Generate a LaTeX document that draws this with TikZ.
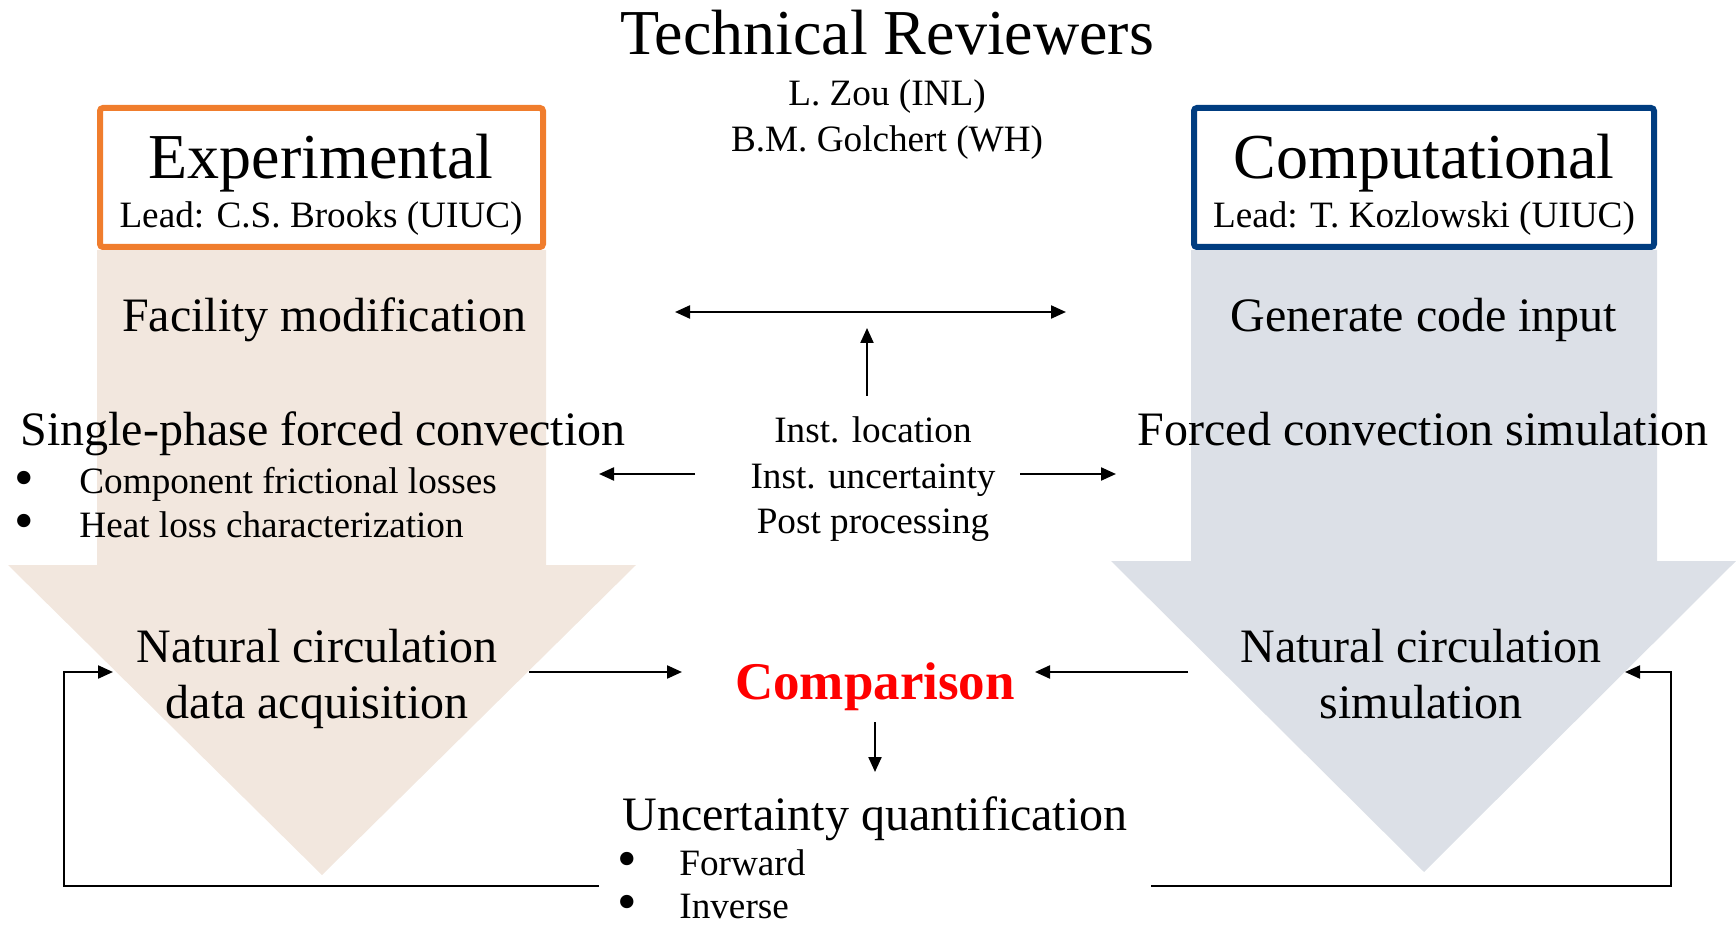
\documentclass[tikz,border=0pt]{standalone}
\usepackage{fontspec}
\setmainfont{Liberation Serif}
\usetikzlibrary{arrows.meta}
\definecolor{exporange}{RGB}{240,125,45}
\definecolor{compblue}{RGB}{0,61,128}
\definecolor{expfill}{RGB}{242,231,222}
\definecolor{compfill}{RGB}{220,224,231}
\definecolor{cmpred}{RGB}{255,0,0}
\begin{document}
\begin{tikzpicture}[x=0.5pt,y=-0.5pt,
  conn/.style={line width=1.1pt,-{Triangle[length=7.5pt,width=6.5pt]}},
  dconn/.style={line width=1.1pt,{Triangle[length=7.5pt,width=6.5pt]}-{Triangle[length=7.5pt,width=6.5pt]}},
  fb/.style={line width=1.1pt,-{Triangle[length=7.5pt,width=6.5pt]}},
  huge/.style={font=\fontsize{32}{36}\selectfont, inner sep=0},
  mid/.style={font=\fontsize{24}{28.2}\selectfont, inner sep=0},
  small/.style={font=\fontsize{18.6}{22.4}\selectfont, inner sep=0},
  bul/.style={font=\fontsize{18.6}{22.4}\selectfont, inner sep=0},
  leadbox/.style={line width=3pt, rounded corners=1.5pt, fill=white, minimum height=69.5pt, inner sep=0},
]
\useasboundingbox (0,0) rectangle (1736,925);
% big arrows
\fill[expfill] (97,250) -- (546,250) -- (546,565) -- (636,565) -- (322,875) -- (8,565) -- (97,565) -- cycle;
\fill[compfill] (1191,250) -- (1657,250) -- (1657,561) -- (1736,561) -- (1424,872) -- (1111,561) -- (1191,561) -- cycle;
% boxes
\node[leadbox, draw=exporange, minimum width=221.5pt] (expbox) at (321.5,177.5) {};
\node[leadbox, draw=compblue, minimum width=230pt] (compbox) at (1424,177.5) {};
\node[huge, anchor=base] (exptitle) at (321,179) {Experimental};
\node[small, anchor=base] (explead) at (321,228) {Lead: C.S. Brooks (UIUC)};
\node[huge, anchor=base] (comptitle) at (1424,179) {Computational};
\node[small, anchor=base] (complead) at (1424,228) {Lead: T. Kozlowski (UIUC)};
% reviewers
\node[huge, anchor=base] (revtitle) at (887,55) {Technical Reviewers};
\node[small, anchor=base] (rev1) at (887,106) {L. Zou (INL)};
\node[small, anchor=base] (rev2) at (887,152) {B.M. Golchert (WH)};
% left column
\node[mid, anchor=base] (fac) at (324,332) {Facility modification};
\node[mid, anchor=base] (sp) at (323,445) {Single-phase forced convection};
\node[bul, anchor=base] (b1) at (24,496) {\scalebox{1.5}{\textbullet}};
\node[small, anchor=base west] (cfl) at (79,494) {Component frictional losses};
\node[bul, anchor=base] (b2) at (24,539) {\scalebox{1.5}{\textbullet}};
\node[small, anchor=base west] (hlc) at (79,537) {Heat loss characterization};
\node[mid, anchor=base] (nc1) at (317,662) {Natural circulation};
\node[mid, anchor=base] (nc2) at (317,718) {data acquisition};
% right column
\node[mid, anchor=base] (gen) at (1424,332) {Generate code input};
\node[mid, anchor=base] (fcs) at (1423,445) {Forced convection simulation};
\node[mid, anchor=base] (ns1) at (1421,662) {Natural circulation};
\node[mid, anchor=base] (ns2) at (1421,718) {simulation};
% centre
\node[small, anchor=base] (inst1) at (873,443) {Inst. location};
\node[small, anchor=base] (inst2) at (873,488) {Inst. uncertainty};
\node[small, anchor=base] (inst3) at (873,533) {Post processing};
\node[font=\fontsize{26.5}{30}\selectfont\bfseries, text=cmpred, inner sep=0, anchor=base] (cmp) at (875,699) {Comparison};
\node[mid, anchor=base] (uq) at (875,830) {Uncertainty quantification};
\node[bul, anchor=base] (b3) at (627,877) {\scalebox{1.5}{\textbullet}};
\node[small, anchor=base west] (fwd) at (679,875) {Forward};
\node[bul, anchor=base] (b4) at (627,920) {\scalebox{1.5}{\textbullet}};
\node[small, anchor=base west] (inv) at (679,918) {Inverse};
% connector end points
\coordinate (topL) at (675,312);
\coordinate (topR) at (1066,312);
\coordinate (upS) at (867,396);
\coordinate (upE) at (867,328);
\coordinate (lS) at (695,474);
\coordinate (lE) at (599,474);
\coordinate (rS) at (1020,474);
\coordinate (rE) at (1116,474);
\coordinate (c1S) at (529,672);
\coordinate (c1E) at (682,672);
\coordinate (c2S) at (1188,672);
\coordinate (c2E) at (1035,672);
\coordinate (dS) at (875,722);
\coordinate (dE) at (875,772);
\coordinate (fbLs) at (599,886);
\coordinate (fbLc1) at (64,886);
\coordinate (fbLc2) at (64,672);
\coordinate (fbLe) at (113,672);
\coordinate (fbRs) at (1151,886);
\coordinate (fbRc1) at (1671,886);
\coordinate (fbRc2) at (1671,672);
\coordinate (fbRe) at (1625,672);
% connectors
\draw[dconn] (topL) -- (topR);
\draw[conn] (upS) -- (upE);
\draw[conn] (lS) -- (lE);
\draw[conn] (rS) -- (rE);
\draw[conn] (c1S) -- (c1E);
\draw[conn] (c2S) -- (c2E);
\draw[conn] (dS) -- (dE);
\draw[fb] (fbLs) -- (fbLc1) -- (fbLc2) -- (fbLe);
\draw[fb] (fbRs) -- (fbRc1) -- (fbRc2) -- (fbRe);
\end{tikzpicture}
\end{document}
